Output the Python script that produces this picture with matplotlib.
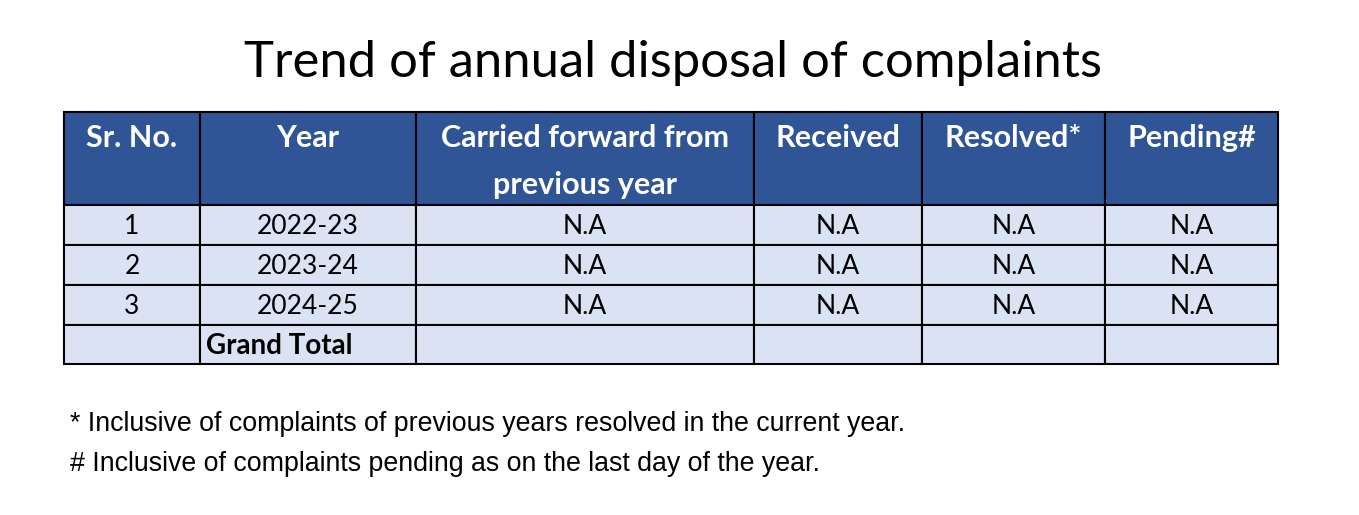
import matplotlib
matplotlib.use("Agg")
import matplotlib.pyplot as plt
from matplotlib.patches import Rectangle

title = "Trend of annual disposal of complaints"
headers = ["Sr. No.", "Year", "Carried forward from\nprevious year", "Received", "Resolved*", "Pending#"]
sr_no = ["1", "2", "3", ""]
years = ["2022-23", "2023-24", "2024-25", "Grand Total"]
carried = ["N.A", "N.A", "N.A", ""]
received = ["N.A", "N.A", "N.A", ""]
resolved = ["N.A", "N.A", "N.A", ""]
pending = ["N.A", "N.A", "N.A", ""]
notes = ["* Inclusive of complaints of previous years resolved in the current year.",
         "# Inclusive of complaints pending as on the last day of the year."]

fig = plt.figure(figsize=(13.59, 5.15), dpi=100)
ax = fig.add_axes([0, 0, 1, 1])
ax.set_xlim(0, 1359); ax.set_ylim(515, 0); ax.axis("off")

xs = [64, 200, 416, 754, 922, 1105, 1278]
hy0, hy1 = 112, 205
rows_y = [205, 245, 285, 325, 364]
font = "Lato"
hdr_col = "#2F5597"; body_col = "#DAE3F3"

ax.text(673, 63, title, fontsize=36.5, family=font, ha="center", va="center")

for i, h in enumerate(headers):
    ax.add_patch(Rectangle((xs[i], hy0), xs[i+1]-xs[i], hy1-hy0, fc=hdr_col, ec="black", lw=1.5))
    for k, line in enumerate(h.split("\n")):
        ax.text((xs[i]+xs[i+1])/2, 138 + 47*k, line, fontsize=22, family=font, weight="bold",
                color="white", ha="center", va="center")

cols = [sr_no, years, carried, received, resolved, pending]
for r in range(4):
    y0, y1 = rows_y[r], rows_y[r+1]
    for c, col in enumerate(cols):
        ax.add_patch(Rectangle((xs[c], y0), xs[c+1]-xs[c], y1-y0, fc=body_col, ec="black", lw=1.5))
        txt = col[r]
        if r == 3 and c == 1:
            ax.text(xs[c]+6, (y0+y1)/2+1, txt, fontsize=20, family=font, weight="bold", ha="left", va="center")
        else:
            ax.text((xs[c]+xs[c+1])/2, (y0+y1)/2+1, txt, fontsize=19, family=font, ha="center", va="center")

for i, n in enumerate(notes):
    ax.text(70, 424 + 40*i, n, fontsize=19.3, family="Liberation Sans", ha="left", va="center")

fig.savefig("out.png", dpi=100)
